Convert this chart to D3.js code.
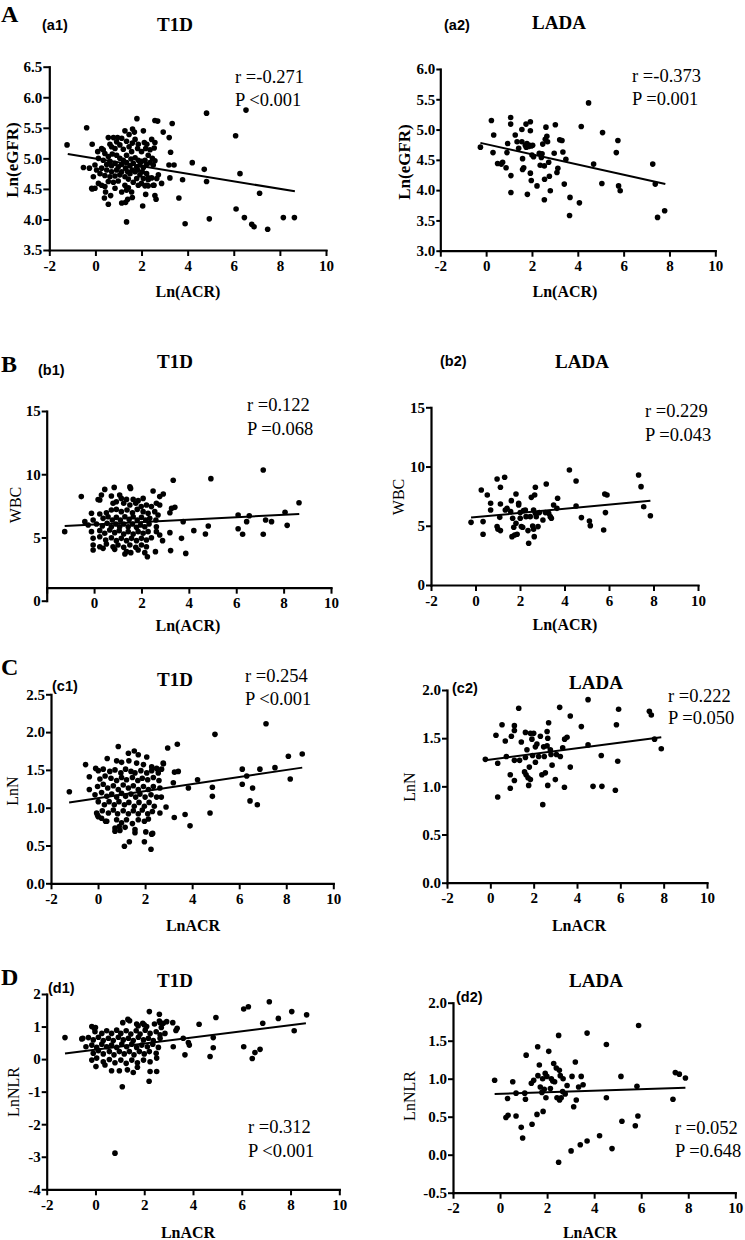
<!DOCTYPE html>
<html><head><meta charset="utf-8">
<script src="https://cdn.jsdelivr.net/npm/d3@7"></script>
<style>body{margin:0;background:#fff}svg{display:block}</style>
</head><body>
<svg id="fig" width="745" height="1240"></svg>
<script>
// ---------------- DATA ----------------
const xTicks = [-2,0,2,4,6,8,10];
const yTicksA1 = [3.5,4.0,4.5,5.0,5.5,6.0,6.5];
const yTicksA2 = [3.0,3.5,4.0,4.5,5.0,5.5,6.0];
const yTicksB  = [0,5,10,15];
const yTicksC1 = [0,0.5,1,1.5,2,2.5];
const yTicksC2 = [0,0.5,1,1.5,2];
const yTicksD1 = [-4,-3,-2,-1,0,1,2];
const yTicksD2 = [-0.5,0,0.5,1,1.5,2];

const groups  = ["T1D","LADA"];
const yLabels = ["Ln(eGFR)","WBC","LnN","LnNLR"];
const xLabels = ["Ln(ACR)","Ln(ACR)","LnACR","LnACR"];
const rLabels = ["r =-0.271","r =-0.373","r =0.122","r =0.229","r =0.254","r =0.222","r =0.312","r =0.052"];
const pLabels = ["P <0.001","P =0.001","P =0.068","P =0.043","P <0.001","P =0.050","P <0.001","P =0.648"];

// fitted regression lines [start, end]
const fitA1 = [[-1.2,5.07],[8.65,4.46]];
const fitA2 = [[-0.25,4.78],[7.82,4.10]];
const fitB1 = [[-1.24,5.91],[8.66,6.85]];
const fitB2 = [[-0.2,5.69],[7.86,7.12]];
const fitC1 = [[-1.23,1.07],[8.68,1.53]];
const fitC2 = [[-0.23,1.27],[7.89,1.51]];
const fitD1 = [[-1.25,0.17],[8.63,1.10]];
const fitD2 = [[-0.23,0.80],[7.88,0.88]];

// (a1) T1D: Ln(ACR) vs Ln(eGFR)
const a1Pts = [[-1.23,5.22],[-0.38,5.50],[-0.14,5.23],[-0.52,4.85],[-0.26,4.84],[1.80,5.65],[2.58,5.62],[2.70,5.61],[3.33,5.57],[4.82,5.74],[6.53,5.79],[6.08,5.37],[2.94,5.43],[3.20,5.34],[3.26,5.10],[3.19,4.89],[3.41,4.89],[4.20,4.93],[4.72,4.82],[4.82,4.62],[3.78,4.65],[3.23,4.68],[3.62,4.35],[6.27,4.75],[7.12,4.43],[6.10,4.17],[6.46,4.03],[6.78,3.92],[6.88,3.88],[7.47,3.84],[8.15,4.03],[8.63,4.03],[4.94,4.01],[3.89,3.93],[1.35,3.96],[2.05,4.22],[1.14,4.27],[0.56,4.25],[0.39,4.35],[0.66,4.39],[0.44,4.45],[-0.14,4.50],[-0.02,4.51],[1.40,4.33],[1.31,4.28],[1.60,4.36],[2.18,4.41],[2.58,4.39],[2.63,4.33],[2.87,4.59],[2.54,4.56],[2.29,4.55],[2.15,4.55],[2.73,4.73],[2.29,4.68],
[0.56,5.34],[0.78,5.34],[0.96,5.34],[1.28,5.45],[1.61,5.48],[1.69,5.43],[2.08,5.45],[1.46,5.39],[1.72,5.31],[1.86,5.23],[2.12,5.26],[2.44,5.31],[2.58,5.26],[2.55,5.17],[2.23,5.23],[0.63,5.23],[0.85,5.16],[1.06,5.22],[1.21,5.15],[1.46,5.19],[1.57,5.11],[1.35,5.05],[0.10,5.11],[0.27,5.16],[0.41,5.08],[0.56,5.03],[0.73,5.07],[0.92,5.05],[1.06,5.00],[1.21,4.97],[1.35,4.93],[1.54,4.99],[1.72,5.01],[1.86,4.97],[2.00,4.95],[2.15,4.97],[2.29,5.05],[2.47,5.00],[2.58,4.96],[0.13,5.00],[0.34,4.97],[0.49,4.90],[0.70,4.88],[0.85,4.92],[0.99,4.86],[1.14,4.90],[1.31,4.84],[1.50,4.88],[1.64,4.92],[1.79,4.86],[1.93,4.89],[2.08,4.85],[2.22,4.90],[2.37,4.93],[2.51,4.89],[-0.02,4.89],[0.05,4.81],[0.20,4.75],[0.41,4.72],[0.63,4.70],[0.85,4.71],[1.06,4.73],[1.28,4.70],[1.50,4.75],[1.72,4.78],[1.93,4.73],[2.08,4.67],[2.29,4.65],[2.44,4.68],[2.66,4.67],[-0.09,4.70],[0.13,4.59],[0.27,4.56],[0.56,4.62],[0.78,4.61],[0.99,4.63],[1.28,4.56],[1.43,4.52],[1.64,4.61],[1.86,4.56],[2.22,4.56],[2.51,4.56],[-0.16,4.51],[0.41,4.54],[1.35,4.48],[1.57,4.45],[0.34,5.14],[0.70,5.19],[0.92,5.27],[1.14,5.33],[1.35,5.28],[1.60,5.25],[1.83,5.16],[2.00,5.11],[2.18,5.16],[2.37,5.14],[0.63,4.95],[0.92,4.81],[1.14,4.78],[1.40,4.78],[1.60,4.81],[1.83,4.81],[2.03,4.78],[2.22,4.75],[0.27,4.84],[0.49,4.81],[0.70,4.78],[1.43,4.66],[1.79,4.67],[2.00,4.59],[1.14,4.45],[0.85,4.51]];

// (a2) LADA: Ln(ACR) vs Ln(eGFR)
const a2Pts = [[-0.25,4.71],[0.23,5.15],[0.33,4.91],[0.30,4.62],[0.50,4.44],[0.66,4.43],[0.72,4.46],[0.87,4.37],[0.91,4.62],[0.94,4.77],[1.07,5.20],[1.07,5.09],[1.08,4.24],[1.08,3.96],[1.27,4.91],[1.35,4.80],[1.42,4.69],[1.74,5.09],[1.93,5.13],[1.56,5.00],[1.56,4.80],[1.59,4.52],[1.59,4.34],[1.64,4.37],[1.71,4.74],[1.75,4.71],[1.78,4.77],[1.85,4.72],[1.90,4.74],[1.93,4.98],[1.97,4.73],[2.03,4.74],[1.93,4.28],[1.97,4.16],[1.80,3.93],[2.00,4.58],[2.07,4.55],[2.22,4.07],[2.32,4.61],[2.36,4.41],[2.41,4.54],[2.44,4.60],[2.47,4.76],[2.54,4.40],[2.55,4.18],[2.54,3.84],[2.58,4.84],[2.61,5.04],[2.65,4.89],[2.68,4.80],[2.73,4.46],[2.76,4.23],[2.80,3.99],[2.97,4.61],[3.02,5.08],[3.13,4.36],[3.09,4.29],[3.21,4.83],[3.31,4.82],[3.35,4.63],[3.41,4.10],[3.48,4.51],[3.66,3.88],[3.64,3.58],[4.15,5.05],[4.07,3.79],[4.47,5.44],[4.69,4.43],[5.08,4.95],[5.05,4.11],[5.68,4.62],[5.75,4.82],[5.78,4.07],[5.85,3.99],[7.27,4.43],[7.38,4.10],[7.48,3.55],[7.79,3.66]];

// (b1) T1D: Ln(ACR) vs WBC
const b1Pts = [[-1.24,5.46],[-0.54,8.23],[0.17,8.0],[0.45,8.8],[0.85,8.96],[1.51,9.0],[1.54,8.88],[2.49,8.67],[2.92,8.44],[3.34,9.52],[4.93,9.65],[7.14,10.33],[8.65,7.75],[8.06,6.99],[8.15,5.96],[6.08,6.78],[6.55,6.72],[7.24,6.38],[6.44,6.25],[7.49,6.25],[6.08,5.69],[6.27,5.25],[7.14,5.25],[4.82,5.91],[4.70,5.27],[4.21,5.54],[3.76,6.25],[3.69,4.93],[3.87,3.74],[3.23,3.96],[2.89,4.75],[2.59,3.88],[2.25,3.48],[1.30,3.69],[1.55,3.80],[3.27,7.30],[3.41,7.38],[3.20,6.96],[3.20,5.38],
[0.73,8.28],[1.08,8.36],[1.15,8.09],[1.37,8.01],[1.65,8.01],[1.86,7.91],[2.07,8.09],[2.77,8.23],[0.31,8.36],[0.24,7.96],[0.80,7.70],[0.94,7.83],[1.25,7.70],[1.51,7.57],[1.76,7.70],[1.99,7.44],[2.21,7.57],[2.42,7.44],[2.63,7.70],[2.77,7.57],[-0.11,6.91],[0.24,6.85],[0.52,6.96],[0.73,7.17],[0.94,7.22],[1.15,7.04],[1.39,7.17],[1.62,6.96],[1.82,7.22],[2.07,7.04],[2.28,6.91],[2.56,7.04],[2.70,6.78],[-0.39,6.25],[-0.04,6.38],[0.38,6.51],[0.59,6.64],[0.77,6.38],[0.94,6.59],[1.11,6.38],[1.30,6.64],[1.48,6.43],[1.65,6.64],[1.82,6.38],[2.00,6.59],[2.18,6.38],[2.35,6.51],[2.61,6.38],[-0.25,5.98],[0.10,6.06],[0.35,5.91],[0.55,6.12],[0.73,5.85],[0.92,6.06],[1.08,5.85],[1.25,6.06],[1.44,5.85],[1.62,6.06],[1.79,5.80],[1.96,5.98],[2.14,5.85],[2.32,6.06],[2.63,5.85],[-0.11,5.46],[0.24,5.54],[0.45,5.33],[0.66,5.59],[0.87,5.38],[1.06,5.54],[1.25,5.27],[1.44,5.46],[1.65,5.27],[1.86,5.46],[2.07,5.33],[2.28,5.46],[2.63,5.46],[-0.04,4.93],[0.24,5.06],[0.49,4.80],[0.73,4.98],[0.94,4.75],[1.15,4.93],[1.37,4.75],[1.58,4.93],[1.79,4.75],[2.00,4.93],[2.21,4.80],[2.42,4.98],[2.77,5.19],[-0.04,4.40],[0.24,4.27],[0.52,4.48],[0.80,4.27],[1.01,4.40],[1.25,4.22],[1.51,4.40],[1.76,4.22],[2.00,4.40],[2.21,4.27],[-0.04,4.01],[0.38,4.14],[0.87,4.06],[1.37,3.88],[1.86,4.01],[2.14,3.80]];

// (b2) LADA: Ln(ACR) vs WBC
const b2Pts = [[-0.20,5.29],[0.26,8.02],[0.34,5.35],[0.34,4.28],[0.53,7.60],[0.68,6.90],[0.68,6.33],[0.97,8.95],[0.97,4.93],[1.01,4.70],[1.09,5.71],[1.12,8.25],[1.12,6.84],[1.12,4.59],[1.31,9.09],[1.34,6.33],[1.42,6.47],[1.58,6.19],[1.61,7.12],[1.64,4.08],[1.67,5.63],[1.72,4.87],[1.76,4.22],[1.82,7.68],[1.82,5.21],[1.87,4.28],[1.94,6.90],[1.94,6.75],[2.01,5.63],[2.01,6.11],[2.06,4.93],[2.12,4.87],[2.16,6.28],[2.24,6.33],[2.27,5.77],[2.36,4.59],[2.39,3.52],[2.46,5.77],[2.51,7.40],[2.57,4.98],[2.61,4.70],[2.61,6.33],[2.64,4.08],[2.66,7.60],[2.69,8.25],[2.69,6.05],[2.73,5.77],[2.81,4.93],[2.87,6.11],[3.03,5.49],[3.14,6.11],[3.18,8.53],[3.29,6.05],[3.36,5.77],[3.41,5.63],[3.51,6.75],[3.66,6.47],[3.69,7.32],[4.22,9.71],[4.52,8.78],[4.52,6.67],[4.76,5.69],[5.12,5.40],[5.16,5.01],[5.76,4.64],[5.81,7.68],[5.91,7.60],[5.84,6.11],[7.33,9.29],[7.44,8.30],[7.56,6.61],[7.86,5.85]];

// (c1) T1D: LnACR vs LnN
const c1Pts = [[-1.22,1.21],[-0.53,1.57],[-0.37,1.24],[-0.10,1.52],[0.39,1.65],[0.86,1.81],[1.29,1.72],[1.54,1.75],[1.71,1.70],[2.07,1.67],[2.96,1.79],[3.37,1.84],[4.97,1.97],[7.14,2.11],[8.09,1.68],[8.68,1.71],[7.52,1.53],[6.88,1.51],[6.13,1.51],[6.32,1.42],[6.13,1.31],[6.57,1.26],[6.46,1.09],[6.77,1.04],[8.17,1.38],[4.86,1.27],[4.86,1.15],[4.76,0.93],[4.23,1.37],[3.84,1.26],[3.70,0.91],[3.91,0.76],[3.24,0.87],[2.89,1.01],[2.69,1.14],[3.20,1.33],[3.41,1.48],[3.25,1.47],[2.78,1.58],[1.12,0.49],[1.33,0.55],[1.97,0.55],[2.25,0.45],[2.32,0.66],[1.57,0.67],[0.72,0.69],[0.90,0.75],[0.32,0.82],[0.01,0.88],[-0.06,0.93],
[0.79,1.62],[1.00,1.60],[1.31,1.62],[1.64,1.59],[1.93,1.57],[2.28,1.54],[2.49,1.52],[2.77,1.59],[0.01,1.49],[0.22,1.51],[0.50,1.48],[0.72,1.50],[0.97,1.46],[1.17,1.51],[1.40,1.48],[1.57,1.46],[1.82,1.49],[2.07,1.46],[2.28,1.49],[2.56,1.46],[2.70,1.51],[-0.37,1.41],[0.08,1.38],[0.30,1.42],[0.55,1.39],[0.79,1.36],[1.00,1.40],[1.21,1.37],[1.46,1.40],[1.69,1.36],[1.88,1.39],[2.11,1.37],[2.35,1.40],[2.59,1.36],[-0.02,1.28],[0.22,1.31],[0.41,1.26],[0.65,1.29],[0.86,1.24],[1.07,1.30],[1.29,1.26],[1.50,1.29],[1.71,1.24],[1.93,1.28],[2.14,1.24],[2.35,1.28],[2.63,1.26],[-0.13,1.17],[0.15,1.20],[0.37,1.15],[0.58,1.18],[0.79,1.14],[1.00,1.19],[1.17,1.15],[1.40,1.18],[1.60,1.14],[1.78,1.18],[2.00,1.14],[2.25,1.17],[2.49,1.14],[0.01,1.08],[0.27,1.04],[0.47,1.08],[0.69,1.04],[0.89,1.08],[1.12,1.04],[1.31,1.07],[1.54,1.02],[1.74,1.07],[1.97,1.02],[2.17,1.07],[2.39,1.02],[-0.02,0.90],[0.18,0.96],[0.44,0.93],[0.65,0.97],[0.83,0.92],[1.07,0.96],[1.29,0.92],[1.50,0.96],[1.71,0.92],[1.88,0.97],[2.11,0.92],[2.31,0.95],[2.63,0.93],[0.15,0.86],[0.37,0.82],[0.79,0.84],[1.00,0.80],[1.21,0.84],[1.46,0.79],[1.71,0.84],[1.97,0.82],[2.14,0.85],[0.72,0.73],[0.93,0.70],[1.15,0.74],[1.57,0.71],[2.03,0.68],[2.28,0.65]];

// (c2) LADA: LnACR vs LnN
const c2Pts = [[-0.23,1.28],[0.26,1.53],[0.34,1.24],[0.34,0.89],[0.54,1.64],[0.69,1.47],[0.74,1.31],[0.92,1.12],[0.92,0.98],[0.97,1.52],[1.11,1.63],[1.11,1.58],[1.11,1.27],[1.11,1.06],[1.31,1.81],[1.35,1.27],[1.43,1.46],[1.58,1.15],[1.62,1.56],[1.62,1.30],[1.65,1.12],[1.69,1.38],[1.74,1.09],[1.77,1.01],[1.80,1.20],[1.85,1.55],[1.85,1.07],[1.92,1.49],[1.95,1.32],[2.00,1.55],[2.08,1.41],[2.08,1.25],[2.15,1.44],[2.23,1.31],[2.31,1.52],[2.38,1.12],[2.42,0.81],[2.46,1.41],[2.49,1.31],[2.54,1.14],[2.62,1.57],[2.62,1.42],[2.65,1.50],[2.65,1.01],[2.69,1.66],[2.77,1.38],[2.85,1.22],[2.80,1.33],[3.00,1.07],[3.05,1.33],[3.20,1.82],[3.23,1.31],[3.34,1.40],[3.42,0.99],[3.43,1.49],[3.54,1.51],[3.69,1.73],[3.69,1.20],[4.20,1.62],[4.51,1.90],[4.51,1.43],[4.74,1.00],[5.12,1.32],[5.15,1.00],[5.77,0.96],[5.82,1.64],[5.88,1.26],[5.92,1.80],[7.34,1.78],[7.43,1.74],[7.58,1.49],[7.89,1.39]];

// (d1) T1D: LnACR vs LnNLR
const d1Pts = [[-1.25,0.66],[-0.56,0.62],[2.21,1.46],[2.62,1.38],[4.25,1.07],[4.94,1.28],[3.60,0.64],[3.85,0.43],[3.81,0.51],[3.67,0.13],[3.19,0.38],[2.78,1.10],[3.17,1.12],[4.83,0.66],[4.83,0.35],[4.70,0.08],[6.08,1.54],[6.27,1.61],[7.13,1.76],[8.05,1.46],[8.66,1.36],[7.50,1.25],[6.86,1.10],[8.15,0.87],[6.08,0.38],[6.75,0.30],[6.54,0.20],[6.43,0.02],[1.10,-0.85],[2.20,-0.68],[2.24,-0.38],[2.51,-0.38],[0.80,-2.89],[2.62,1.17],[2.70,0.97],[2.65,0.75],[3.35,0.95],[3.30,0.88],
[-0.15,1.00],[1.33,1.22],[1.12,1.12],[1.69,1.08],[1.94,1.10],[2.10,1.00],[2.42,1.08],[2.65,1.12],[2.92,1.15],[-0.02,0.84],[0.26,0.79],[0.46,0.87],[0.66,0.79],[0.87,0.89],[1.04,0.79],[1.26,0.87],[1.45,0.77],[1.67,0.87],[1.83,0.77],[2.04,0.89],[2.24,0.79],[2.49,0.84],[2.85,0.79],[-0.52,0.64],[-0.29,0.66],[-0.09,0.59],[0.12,0.67],[0.32,0.57],[0.53,0.64],[0.73,0.57],[0.94,0.67],[1.14,0.59],[1.35,0.64],[1.55,0.57],[1.76,0.67],[1.97,0.59],[2.17,0.64],[2.37,0.57],[2.65,0.64],[-0.39,0.38],[-0.15,0.43],[0.05,0.36],[0.26,0.46],[0.46,0.38],[0.66,0.43],[0.87,0.36],[1.08,0.46],[1.28,0.38],[1.49,0.46],[1.69,0.36],[1.90,0.43],[2.13,0.38],[2.35,0.46],[2.58,0.36],[-0.09,0.18],[0.12,0.26],[0.32,0.16],[0.57,0.23],[0.76,0.13],[0.98,0.23],[1.18,0.16],[1.39,0.23],[1.58,0.13],[1.80,0.23],[2.00,0.16],[2.21,0.23],[2.49,0.18],[-0.15,-0.03],[0.05,0.03],[0.32,-0.08],[0.57,-0.01],[0.80,-0.11],[1.04,-0.03],[1.26,-0.13],[1.49,-0.03],[1.72,-0.11],[1.97,-0.03],[2.24,-0.08],[2.51,0.03],[0.02,-0.23],[0.39,-0.18],[0.66,-0.36],[0.98,-0.36],[1.31,-0.33],[1.55,-0.41],[1.72,-0.25],[1.40,1.18],[1.75,1.02],[2.00,1.05],[0.00,0.97],[-0.05,0.95]];

// (d2) LADA: LnACR vs LnNLR
const d2Pts = [[-0.23,0.98],[0.25,0.49],[0.32,0.74],[0.34,0.52],[0.54,0.96],[0.68,0.51],[0.68,0.81],[0.90,0.36],[0.96,0.22],[1.05,0.81],[1.08,0.73],[1.11,1.31],[1.33,0.94],[1.36,0.40],[1.43,0.98],[1.57,0.53],[1.60,1.42],[1.61,1.04],[1.67,1.18],[1.71,0.89],[1.78,0.82],[1.81,1.00],[1.83,0.57],[1.88,0.86],[1.92,1.07],[1.95,0.75],[1.99,1.03],[2.07,1.36],[2.14,0.87],[2.18,1.00],[2.24,0.97],[2.28,1.20],[2.32,0.96],[2.39,1.14],[2.42,0.75],[2.49,1.57],[2.52,1.11],[2.56,1.04],[2.53,0.72],[2.60,0.75],[2.66,0.83],[2.68,1.00],[2.77,0.80],[2.85,0.91],[2.49,-0.10],[3.02,0.05],[3.06,1.03],[3.13,0.63],[3.20,1.22],[3.24,0.72],[3.34,0.89],[3.41,0.13],[3.45,1.03],[3.53,0.92],[3.70,0.18],[3.70,1.60],[4.23,0.25],[4.52,1.45],[4.52,0.75],[4.76,0.08],[5.14,1.03],[5.18,0.44],[5.75,0.38],[5.82,0.90],[5.86,0.51],[5.89,1.70],[7.35,0.73],[7.45,1.08],[7.62,1.06],[7.88,1.01]];

// ---------------- LAYOUT ----------------
const panels = [
 {tag:"(a1)",letter:"A",pts:a1Pts,fit:fitA1,yT:yTicksA1,fmt:".1f",xr:[49.3,326],yr:[250,66.7],xAt:3.5,noM2:false,row:0,col:0,yBold:true,ytk:6,
  letterPos:[1,22],tagPos:[42,30],titlePos:[175,31],stat:[235,83,106],ylab:[18,160],xlab:[188,297]},
 {tag:"(a2)",letter:"",pts:a2Pts,fit:fitA2,yT:yTicksA2,fmt:".1f",xr:[440.3,715.3],yr:[250.7,69],xAt:3.0,noM2:false,row:0,col:1,yBold:true,ytk:4,
  tagPos:[444,30],titlePos:[559,29],stat:[632,82,105],ylab:[410,162],xlab:[565,297]},
 {tag:"(b1)",letter:"B",pts:b1Pts,fit:fitB1,yT:yTicksB,fmt:"d",xr:[46.7,331],yr:[600.7,411],xAt:1.03,noM2:true,row:1,col:0,yBold:false,ytk:5,
  letterPos:[1,372],tagPos:[38,375],titlePos:[175,368],stat:[247,411,435],ylab:[20.5,505],xlab:[188,631]},
 {tag:"(b2)",letter:"",pts:b2Pts,fit:fitB2,yT:yTicksB,fmt:"d",xr:[431,698],yr:[585,407.3],xAt:0,noM2:false,row:1,col:1,yBold:false,ytk:5,
  tagPos:[440,366],titlePos:[582,368],stat:[645,417,441],ylab:[404,497],xlab:[565,630]},
 {tag:"(c1)",letter:"C",pts:c1Pts,fit:fitC1,yT:yTicksC1,fmt:".1f",xr:[51,333.3],yr:[883.3,694.3],xAt:0,noM2:false,row:2,col:0,yBold:false,ytk:5,
  letterPos:[1,675],tagPos:[52,691],titlePos:[175,686],stat:[245,682,705],ylab:[18,791],xlab:[193,931]},
 {tag:"(c2)",letter:"",pts:c2Pts,fit:fitC2,yT:yTicksC2,fmt:".1f",xr:[447,707],yr:[882.7,690],xAt:0,noM2:false,row:2,col:1,yBold:false,ytk:5,
  tagPos:[452,693],titlePos:[596,689],stat:[668,702,724],ylab:[415,787],xlab:[579,931]},
 {tag:"(d1)",letter:"D",pts:d1Pts,fit:fitD1,yT:yTicksD1,fmt:"d",xr:[46.7,339.3],yr:[1189.3,994],xAt:-4,noM2:false,row:3,col:0,yBold:false,ytk:5,
  letterPos:[1,985],tagPos:[48,993],titlePos:[175,987],stat:[248,1133,1157],ylab:[19,1092],xlab:[188,1238]},
 {tag:"(d2)",letter:"",pts:d2Pts,fit:fitD2,yT:yTicksD2,fmt:".1f",xr:[453,735.3],yr:[1192.7,1002.7],xAt:-0.5,noM2:false,row:3,col:1,yBold:false,ytk:5,
  tagPos:[456,1002],titlePos:[596,987],stat:[675,1134,1157],ylab:[414.5,1096],xlab:[590,1238]}
];

const SERIF = "'Liberation Serif','Times New Roman',Times,serif";
const SANS = "'Liberation Sans',Arial,Helvetica,sans-serif";
const svg = d3.select("#fig");
const hy = s => s.replace(/\u2212/g, "-");

panels.forEach((p,i) => {
  const x = d3.scaleLinear().domain([-2,10]).range(p.xr);
  const y = d3.scaleLinear().domain([p.yT[0], p.yT[p.yT.length-1]]).range(p.yr);
  const g = svg.append("g");

  const yfmt = d3.format(p.fmt);
  const xa = d3.axisBottom(x).tickValues(xTicks).tickSize(6).tickSizeOuter(0).tickPadding(4)
     .tickFormat(d => (p.noM2 && d === -2) ? "" : String(d));
  const gx = g.append("g").attr("transform", `translate(0,${y(p.xAt)})`).call(xa);
  const ya = d3.axisLeft(y).tickValues(p.yT).tickSize(p.ytk).tickSizeOuter(0).tickPadding(1)
     .tickFormat(d => hy(yfmt(d)));
  const gy = g.append("g").attr("transform", `translate(${p.xr[0]},0)`).call(ya);
  [gx, gy].forEach(ax => {
    ax.selectAll("path.domain").attr("stroke","#000").attr("stroke-width",2.2).attr("stroke-linecap","square");
    ax.selectAll(".tick line").attr("stroke","#000").attr("stroke-width",2);
    ax.selectAll("text").attr("fill","#000").style("font-family",SERIF).style("font-weight","bold").style("font-size","15px");
  });

  g.append("path")
   .attr("d", d3.line().x(d => x(d[0])).y(d => y(d[1]))(p.fit))
   .attr("stroke","#000").attr("stroke-width",2).attr("fill","none");

  g.append("g").selectAll("circle").data(p.pts).join("circle")
   .attr("cx", d => x(d[0])).attr("cy", d => y(d[1])).attr("r", 2.8).attr("fill","#000");

  if (p.letter) g.append("text").attr("x",p.letterPos[0]).attr("y",p.letterPos[1]).text(p.letter)
     .style("font-family",SERIF).style("font-weight","bold").style("font-size","24px");
  g.append("text").attr("x",p.tagPos[0]).attr("y",p.tagPos[1]).text(p.tag)
     .style("font-family",SANS).style("font-weight","bold").style("font-size","14.5px");
  g.append("text").attr("x",p.titlePos[0]).attr("y",p.titlePos[1]).attr("text-anchor","middle").text(groups[p.col])
     .style("font-family",SERIF).style("font-weight","bold").style("font-size","19px");
  g.append("text").attr("x",p.stat[0]).attr("y",p.stat[1]).text(rLabels[i])
     .style("font-family",SERIF).style("font-size","18.5px");
  g.append("text").attr("x",p.stat[0]).attr("y",p.stat[2]).text(pLabels[i])
     .style("font-family",SERIF).style("font-size","18.5px");
  g.append("text").attr("transform",`translate(${p.ylab[0]},${p.ylab[1]}) rotate(-90)`).attr("text-anchor","middle")
     .text(yLabels[p.row])
     .style("font-family",SERIF).style("font-weight", p.yBold ? "bold" : "normal").style("font-size", p.yBold ? "17px" : "16px");
  g.append("text").attr("x",p.xlab[0]).attr("y",p.xlab[1]).attr("text-anchor","middle").text(xLabels[p.row])
     .style("font-family",SERIF).style("font-weight","bold").style("font-size","16px");
});
</script>
</body></html>
